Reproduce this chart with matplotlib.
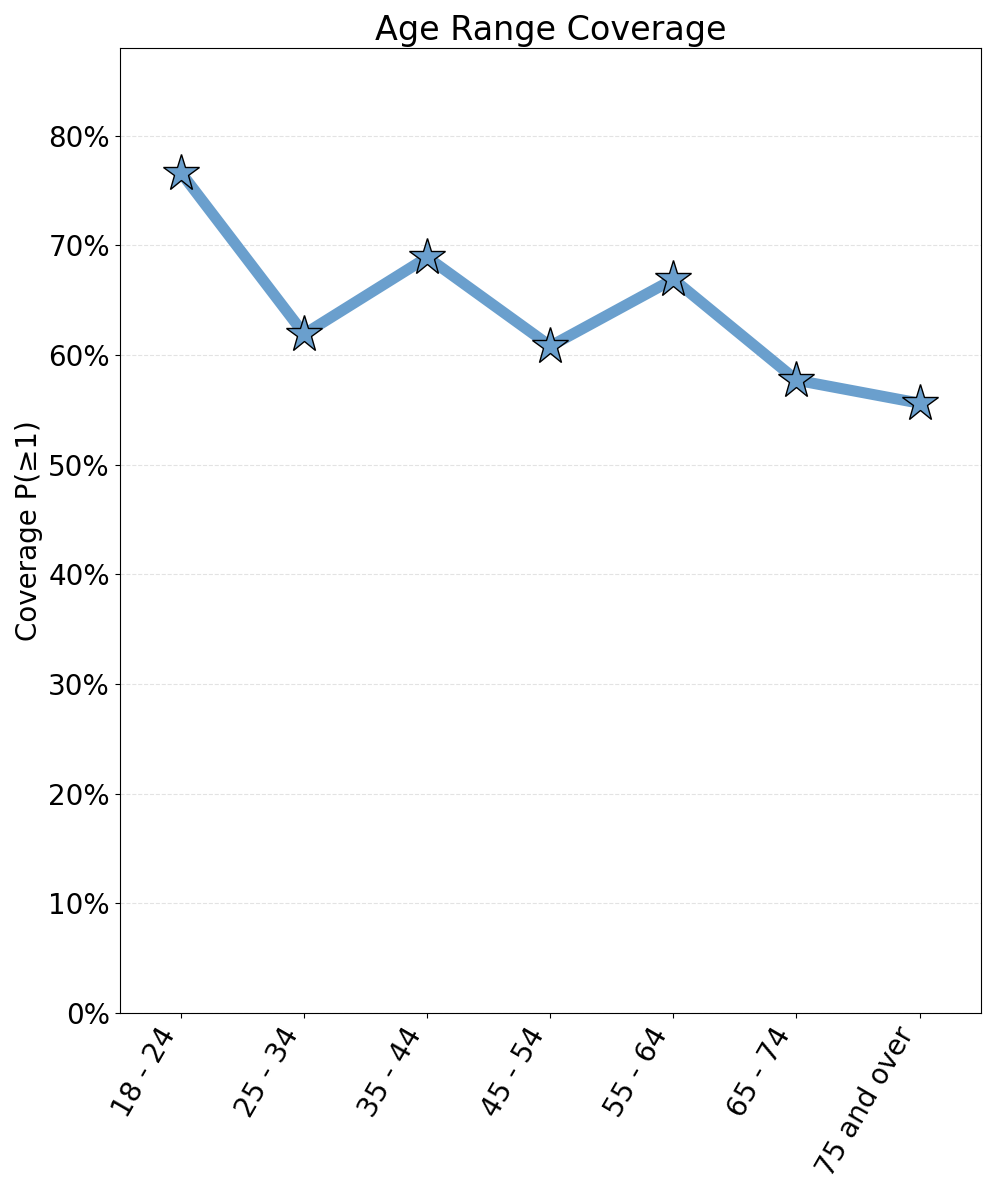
import matplotlib
matplotlib.use("Agg")
import matplotlib.pyplot as plt
from matplotlib.ticker import PercentFormatter

categories = ["18 - 24", "25 - 34", "35 - 44", "45 - 54", "55 - 64", "65 - 74", "75 and over"]
coverage = [0.766, 0.619, 0.689, 0.608, 0.669, 0.577, 0.556]

fig, ax = plt.subplots(figsize=(9.97, 11.96), dpi=100)
x = list(range(len(categories)))
ax.plot(x, coverage, color="#6a9fcd", linewidth=8, marker="*", markersize=28,
        markerfacecolor="#6a9fcd", markeredgecolor="black", markeredgewidth=1.0, zorder=3)
ax.set_xticks(x)
ax.set_xticklabels(categories, rotation=60, ha="right", fontsize=20)
ax.set_xlim(-0.5, len(categories) - 0.5)
ax.set_ylim(0, 0.88)
ax.set_yticks([i / 10 for i in range(9)])
ax.yaxis.set_major_formatter(PercentFormatter(1.0, decimals=0))
ax.tick_params(axis="y", labelsize=20)
ax.grid(axis="y", linestyle="--", color="#dddddd", linewidth=0.8, alpha=0.8)
ax.set_axisbelow(True)
ax.set_ylabel("Coverage P(≥1)", fontsize=20)
ax.set_title("Age Range Coverage", fontsize=24)
fig.subplots_adjust(left=0.12, right=0.984, top=0.96, bottom=0.153)
fig.savefig("out.png", dpi=100)
